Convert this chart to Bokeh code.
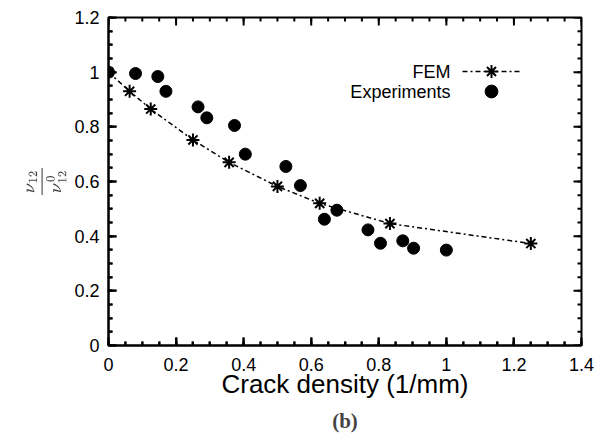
from bokeh.plotting import figure
from bokeh.models import (Range1d, LinearAxis, FixedTicker, CustomJSTickFormatter,
                          Legend, LegendItem, Label, Title)
from bokeh.embed import file_html
from bokeh.resources import INLINE

# ---- data ----
fem_x = [0, 0.0625, 0.125, 0.25, 0.357, 0.5, 0.625, 0.833, 1.25]
fem_y = [1.0, 0.93, 0.865, 0.752, 0.67, 0.582, 0.52, 0.446, 0.373]
exp_x = [0, 0.08, 0.146, 0.17, 0.265, 0.291, 0.373, 0.405, 0.525, 0.568,
         0.639, 0.676, 0.768, 0.805, 0.871, 0.903, 1.0]
exp_y = [1.0, 0.995, 0.984, 0.93, 0.873, 0.833, 0.805, 0.70, 0.655, 0.585,
         0.462, 0.495, 0.423, 0.374, 0.383, 0.356, 0.349]
x_ticks = [0, 0.2, 0.4, 0.6, 0.8, 1.0, 1.2, 1.4]
y_ticks = [0, 0.2, 0.4, 0.6, 0.8, 1.0, 1.2]
x_label = "Crack density (1/mm)"
y_label = r"$$\displaystyle\frac{\nu_{12}}{\nu_{12}^0}$$"
series_names = ["FEM", "Experiments"]
caption = "(b)"

FONT = "Liberation Sans"
X0, X1 = x_ticks[0], x_ticks[-1]
Y0, Y1 = y_ticks[0], y_ticks[-1]
W, H = 600, 440
BL, BR, BT, BB = 108, 19, 17, 95
FW, FH = W - BL - BR, H - BT - BB          # frame size in pixels
DX = (X1 - X0) / FW                        # data units per pixel
DY = (Y1 - Y0) / FH

p = figure(width=W, height=H, output_backend="svg", toolbar_location=None,
           x_range=Range1d(X0, X1), y_range=Range1d(Y0, Y1),
           min_border_left=BL, min_border_right=BR, min_border_top=BT, min_border_bottom=BB,
           x_axis_type=None, y_axis_type=None)
p.grid.visible = False
p.outline_line_color = "black"
p.outline_line_width = 2
p.background_fill_color = "white"
p.border_fill_color = "white"

fmt = CustomJSTickFormatter(code="return tick.toFixed(1).replace(/\\.0$/, '');")

def minor_of(ticks):
    return [round(i * 0.05, 2) for i in range(int(round(ticks[-1] / 0.05)) + 1)]

def make_axis(ticks):
    ax = LinearAxis(ticker=FixedTicker(ticks=ticks, minor_ticks=minor_of(ticks)), formatter=fmt)
    ax.major_tick_in = 8
    ax.major_tick_out = 0
    ax.minor_tick_in = 4
    ax.minor_tick_out = 0
    ax.axis_line_color = "black"
    ax.axis_line_width = 2
    ax.major_tick_line_color = "black"
    ax.major_tick_line_width = 2
    ax.minor_tick_line_color = "black"
    ax.minor_tick_line_width = 2
    ax.major_label_text_font = FONT
    ax.major_label_text_font_size = "18px"
    ax.major_label_text_color = "black"
    return ax

xb = make_axis(x_ticks)
xb.major_label_standoff = 12
xb.axis_label = x_label
xb.axis_label_text_font = FONT
xb.axis_label_text_font_size = "26px"
xb.axis_label_text_font_style = "normal"
xb.axis_label_text_color = "black"
xb.axis_label_standoff = -5
p.add_layout(xb, "below")

yl = make_axis(y_ticks)
yl.major_label_standoff = 9
yl.axis_label = y_label
yl.axis_label_text_font_size = "15px"
yl.axis_label_text_font_style = "normal"
yl.axis_label_standoff = 5
p.add_layout(yl, "left")

cap = Title(text=caption, align="center", text_font="Liberation Serif",
            text_font_style="bold", text_font_size="21px", standoff=11)
p.add_layout(cap, "below")

# inward tick marks on all four sides, drawn fully inside the frame
for ticks, ln in [(x_ticks, 8), (minor_of(x_ticks), 4)]:
    n = len(ticks)
    p.segment(x0=ticks * 2, y0=[Y0] * n + [Y1] * n,
              x1=ticks * 2, y1=[Y0 + ln * DY] * n + [Y1 - ln * DY] * n,
              line_color="black", line_width=2)
for ticks, ln in [(y_ticks, 8), (minor_of(y_ticks), 4)]:
    n = len(ticks)
    p.segment(x0=[X0] * n + [X1] * n, y0=ticks * 2,
              x1=[X0 + ln * DX] * n + [X1 - ln * DX] * n, y1=ticks * 2,
              line_color="black", line_width=2)

fem_line = p.line(fem_x, fem_y, line_color="black", line_width=1.5, line_dash="5 3 2 3")
fem_pts = p.scatter(fem_x, fem_y, marker="asterisk", size=13, line_color="black", line_width=2)
exp_pts = p.scatter(exp_x, exp_y, marker="circle", size=12, fill_color="black", line_color="black")

common = dict(glyph_width=58, glyph_height=32, padding=0, margin=0, label_standoff=0,
              label_width=0, label_text_font_size="18px", border_line_color=None,
              background_fill_alpha=0)
leg_fem = Legend(items=[LegendItem(label=" ", renderers=[fem_line, fem_pts])],
                 location=(354, 258), **common)
leg_exp = Legend(items=[LegendItem(label=" ", renderers=[exp_pts])],
                 location=(354, 238), **common)
p.add_layout(leg_fem, "center")
p.add_layout(leg_exp, "center")

for txt, yy in zip(series_names, [1.002, 0.929]):
    p.add_layout(Label(x=1.012, y=yy, text=txt, text_align="right", text_baseline="middle",
                       text_font=FONT, text_font_size="18px", text_color="black"))

open("out.html", "w").write(file_html(p, INLINE))
